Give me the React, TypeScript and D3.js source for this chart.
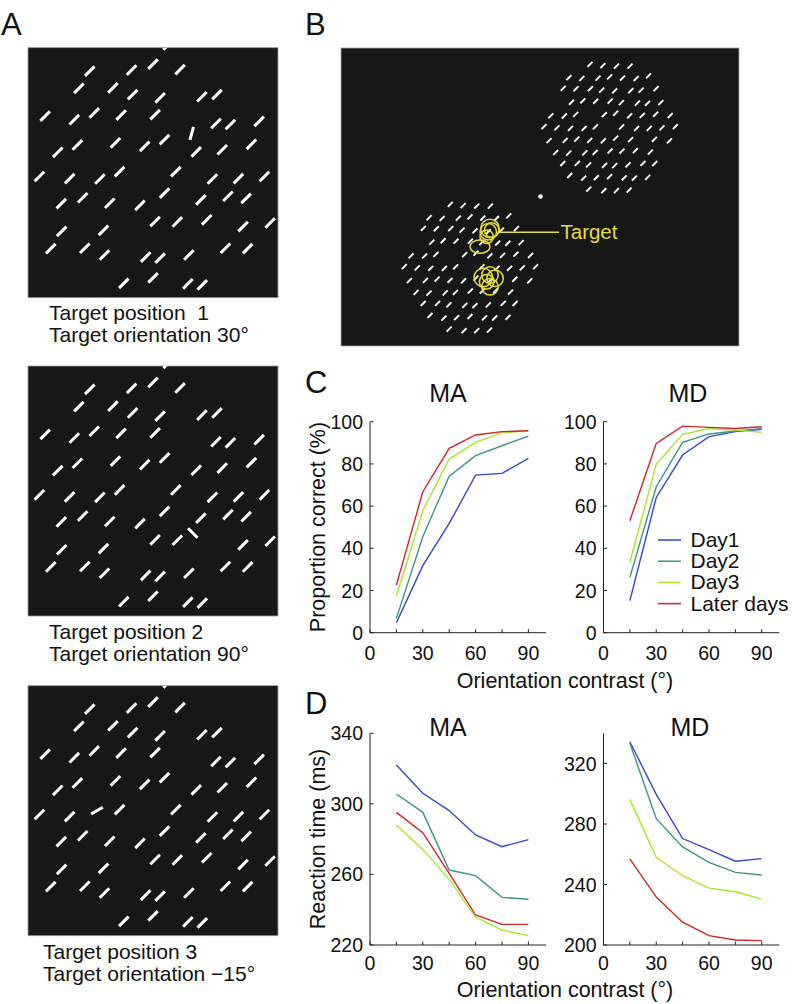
import React from 'react';
import * as d3 from 'd3';

// ---------- DATA ----------
const CONTRASTS = [15, 30, 45, 60, 75, 90];
const SERIES = ['Day1', 'Day2', 'Day3', 'Later days'];
const COLORS = ['#3446d6', '#3e9585', '#a5ea2a', '#d3262b'];

// Proportion correct (%)
const PC_MA_DAY1 = [4.7, 31.8, 51.8, 74.7, 75.5, 82.6];
const PC_MA_DAY2 = [6.8, 45.5, 74.2, 83.9, 88.6, 93.2];
const PC_MA_DAY3 = [17.4, 57.8, 82.3, 90.2, 94.8, 95.7];
const PC_MA_LATER = [22.6, 66.8, 87.4, 93.7, 95.3, 95.7];
const PC_MD_DAY1 = [15.2, 64.1, 84.2, 92.9, 95.3, 96.4];
const PC_MD_DAY2 = [26.2, 69.2, 90.2, 94.2, 95.6, 96.7];
const PC_MD_DAY3 = [33.5, 79.8, 94.0, 96.8, 96.0, 95.0];
const PC_MD_LATER = [53.1, 89.7, 97.9, 97.3, 96.8, 97.6];

// Reaction time (ms)
const RT_MA_DAY1 = [322.0, 306.0, 296.2, 282.4, 275.7, 279.7];
const RT_MA_DAY2 = [305.6, 295.2, 262.5, 259.3, 247.0, 245.9];
const RT_MA_DAY3 = [288.0, 274.2, 257.2, 235.7, 228.5, 225.3];
const RT_MA_LATER = [295.2, 283.7, 260.6, 237.0, 231.7, 231.7];
const RT_MD_DAY1 = [334.4, 299.6, 270.4, 263.1, 255.4, 257.1];
const RT_MD_DAY2 = [333.5, 283.5, 264.9, 254.7, 248.0, 246.3];
const RT_MD_DAY3 = [296.3, 258.0, 245.8, 237.6, 235.2, 230.3];
const RT_MD_LATER = [256.9, 231.7, 215.1, 206.2, 203.3, 202.9];

const X_TICKS = [0, 15, 30, 45, 60, 75, 90];
const X_TICK_LABELS = [0, 30, 60, 90];
const PC_TICKS = [0, 20, 40, 60, 80, 100];
const RT_MA_TICKS = [220, 260, 300, 340];
const RT_MD_TICKS = [200, 240, 280, 320];

// Stimulus panels (A): target location in stimulus units (radius 1), orientation in degrees
const A_TARGET_X = [0.31, 0.318, -0.448];
const A_TARGET_Y = [-0.315, 0.336, 0.0];
const A_TARGET_ANGLE = [75, 135, 30];
const A_LINE1 = ['Target position\u00a0\u00a01', 'Target position 2', 'Target position 3'];
const A_LINE2 = ['Target orientation 30°', 'Target orientation 90°', 'Target orientation \u221215°'];
const BACKGROUND_ANGLE = 45;

// small jitter table (lattice units)
const JITTER: [number, number][] = [
  [0.22, -0.15], [-0.3, 0.1], [0.05, 0.28], [-0.12, -0.3], [0.32, 0.2],
  [-0.25, -0.05], [0.1, -0.22], [-0.05, 0.18], [0.27, 0.02], [-0.33, 0.25],
  [0.15, 0.3], [-0.18, -0.2], [0.0, -0.08],
];

// Panel B (screen units 40 x 30)
const B_PATCH_X = [27.0, 12.96];
const B_PATCH_Y = [7.96, 22.05];
const B_PATCH_R = 6.9;
const B_FIX = [20.05, 14.95];
const B_TARGET = [14.8, 18.5];
const EYE_X = [14.97, 14.8, 15.15, 14.64, 13.97, 14.3, 14.97, 15.48, 14.97, 14.64];
const EYE_Y = [18.16, 18.5, 18.33, 19.0, 20.0, 23.1, 22.86, 23.19, 24.04, 23.53];
const EYE_RX = [0.93, 0.83, 0.73, 0.67, 1.0, 0.93, 0.83, 0.83, 0.83, 0.73];
const EYE_RY = [0.93, 0.83, 0.73, 0.67, 0.67, 0.93, 0.83, 0.83, 0.83, 0.73];

// ---------- STYLE ----------
const FONT = "'Liberation Sans', Arial, Helvetica, sans-serif";
const STIM_BG = '#161818';
const YELLOW = '#e6dc3a';

type Seg = { x1: number; y1: number; x2: number; y2: number };

function lattice(radius: number, spacing: number, skipMod: number, jitterScale: number) {
  const pts: { u: number; v: number }[] = [];
  const n = Math.ceil(radius / spacing) + 2;
  d3.range(-n, n + 1).forEach((j) => {
    d3.range(-n, n + 1).forEach((i) => {
      const jit = JITTER[Math.abs(i * 5 + j * 3) % JITTER.length];
      const u = (i + (Math.abs(j) % 2) * 0.5 + jit[0] * jitterScale) * spacing;
      const v = (j * 0.95 + jit[1] * jitterScale) * spacing;
      if (skipMod > 0 && Math.abs(i * 3 + j * 7) % skipMod === 0) return;
      if (Math.hypot(u, v) <= radius) pts.push({ u, v });
    });
  });
  return pts;
}

function segAt(cx: number, cy: number, len: number, angleDeg: number): Seg {
  const a = (angleDeg * Math.PI) / 180;
  const dx = (Math.cos(a) * len) / 2;
  const dy = (Math.sin(a) * len) / 2;
  return { x1: cx - dx, y1: cy + dy, x2: cx + dx, y2: cy - dy };
}

function StimA({ idx, top }: { idx: number; top: number }) {
  const left = 28;
  const size = 250;
  const sx = d3.scaleLinear().domain([-1, 1]).range([left, left + size]);
  const sy = d3.scaleLinear().domain([-1, 1]).range([top, top + size]);
  const tx = A_TARGET_X[idx];
  const ty = A_TARGET_Y[idx];
  const pts = lattice(1.03, 0.225, 11, 0.75).filter((p) => Math.hypot(p.u - tx, p.v - ty) > 0.13);
  const segs = pts.map((p) => segAt(sx(p.u), sy(p.v), 13.5, BACKGROUND_ANGLE));
  const target = segAt(sx(tx), sy(ty), 13.5, A_TARGET_ANGLE[idx]);
  const clipId = `clipA${idx}`;
  return (
    <g>
      <defs>
        <clipPath id={clipId}>
          <rect x={left} y={top} width={size} height={size} />
        </clipPath>
      </defs>
      <rect x={left} y={top} width={size} height={size} fill={STIM_BG} stroke="#9a9a9a" strokeWidth={0.8} />
      <g clipPath={`url(#${clipId})`} stroke="#ffffff" strokeWidth={3}>
        {segs.map((s, k) => (
          <line key={k} x1={s.x1} y1={s.y1} x2={s.x2} y2={s.y2} />
        ))}
        <line x1={target.x1} y1={target.y1} x2={target.x2} y2={target.y2} />
      </g>
    </g>
  );
}

function StimB() {
  const left = 341, top = 48, w = 398, h = 298;
  const sx = d3.scaleLinear().domain([0, 40]).range([left, left + w]);
  const sy = d3.scaleLinear().domain([0, 30]).range([top, top + h]);
  const k = sx(1) - sx(0);
  const pts = lattice(B_PATCH_R, 1.32, 13, 0.35);
  const segs: Seg[] = [];
  B_PATCH_X.forEach((px, pi) => {
    pts.forEach((p) => {
      const cx = px + p.u;
      const cy = B_PATCH_Y[pi] + p.v;
      if (pi === 1 && Math.hypot(cx - B_TARGET[0], cy - B_TARGET[1]) < 0.7) return;
      segs.push(segAt(sx(cx), sy(cy), 7, BACKGROUND_ANGLE));
    });
  });
  const tgt = segAt(sx(B_TARGET[0]), sy(B_TARGET[1]), 7, BACKGROUND_ANGLE);
  const lineY = sy(18.56);
  return (
    <g>
      <rect x={left} y={top} width={w} height={h} fill={STIM_BG} stroke="#a0a0a0" strokeWidth={0.8} />
      <g stroke="#ffffff" strokeWidth={1.9}>
        {segs.map((s, i) => (
          <line key={i} x1={s.x1} y1={s.y1} x2={s.x2} y2={s.y2} />
        ))}
        <line x1={tgt.x1} y1={tgt.y1} x2={tgt.x2} y2={tgt.y2} />
      </g>
      <circle cx={sx(B_FIX[0])} cy={sy(B_FIX[1])} r={2.3} fill="#ffffff" />
      <g fill="none" stroke={YELLOW} strokeWidth={1.5}>
        {EYE_X.map((ex, i) => (
          <ellipse key={i} cx={sx(ex)} cy={sy(EYE_Y[i])} rx={EYE_RX[i] * k} ry={EYE_RY[i] * k} />
        ))}
        <line x1={sx(15.98)} y1={lineY} x2={sx(21.9)} y2={lineY} />
      </g>
      <text x={sx(22.06)} y={lineY + 7} fill={YELLOW} fontSize={20.5} fontFamily={FONT}>
        Target
      </text>
    </g>
  );
}

type ChartProps = {
  x0: number; x1: number; y0: number; y1: number;
  yDomain: [number, number];
  yTicks: number[];
  series: number[][];
  title: string;
  titleX: number;
  titleY: number;
  tickLabelY: number;
};

function LineChart(p: ChartProps) {
  const x = d3.scaleLinear().domain([0, 100]).range([p.x0, p.x1]);
  const y = d3.scaleLinear().domain(p.yDomain).range([p.y0, p.y1]);
  const line = d3
    .line<number>()
    .x((_, i) => x(CONTRASTS[i]))
    .y((d) => y(d));
  return (
    <g fontFamily={FONT} fill="#111">
      {p.series.map((s, i) => (
        <path key={i} d={line(s) || ''} fill="none" stroke={COLORS[i]} strokeWidth={1.4} />
      ))}
      <g stroke="#222" strokeWidth={1} fill="none">
        <line x1={p.x0} y1={p.y0} x2={p.x1} y2={p.y0} />
        <line x1={p.x0} y1={p.y0} x2={p.x0} y2={y(p.yDomain[1])} />
        {X_TICKS.map((t) => (
          <line key={'xt' + t} x1={x(t)} x2={x(t)} y1={p.y0} y2={p.y0 - 3.5} />
        ))}
        {p.yTicks.map((t) => (
          <line key={'yt' + t} x1={p.x0} x2={p.x0 + 3.5} y1={y(t)} y2={y(t)} />
        ))}
      </g>
      {X_TICK_LABELS.map((t) => (
        <text key={'xl' + t} x={x(t)} y={p.tickLabelY} textAnchor="middle" fontSize={19.5}>
          {t}
        </text>
      ))}
      {p.yTicks.map((t) => (
        <text key={'yl' + t} x={p.x0 - 7} y={y(t) + 7} textAnchor="end" fontSize={19.5}>
          {t}
        </text>
      ))}
      <text x={p.titleX} y={p.titleY} textAnchor="middle" fontSize={25}>
        {p.title}
      </text>
    </g>
  );
}

export default function App() {
  const cY0 = 632.7, cY1 = 421.7;
  const dY0 = 945, dY1 = 733.3;
  const maX0 = 370, maX1 = 546;
  const mdX0 = 603.5, mdX1 = 779.3;
  return (
    <svg width={793} height={1004} style={{ position: 'absolute', left: 0, top: 0, background: '#fff' }}>
      <rect x={0} y={0} width={793} height={1004} fill="#ffffff" />
      {/* Panel letters */}
      <g fontFamily={FONT} fontSize={31} fill="#111">
        <text x={1} y={35}>A</text>
        <text x={305} y={35}>B</text>
        <text x={305} y={393}>C</text>
        <text x={305} y={714}>D</text>
      </g>

      {/* Panel A */}
      <StimA idx={0} top={47.7} />
      <StimA idx={1} top={366} />
      <StimA idx={2} top={685.7} />
      <g fontFamily={FONT} fontSize={21} fill="#111">
        <text x={49} y={320}>{A_LINE1[0]}</text>
        <text x={49} y={342}>{A_LINE2[0]}</text>
        <text x={49} y={638.5}>{A_LINE1[1]}</text>
        <text x={49} y={660.5}>{A_LINE2[1]}</text>
        <text x={43} y={959}>{A_LINE1[2]}</text>
        <text x={43} y={981}>{A_LINE2[2]}</text>
      </g>

      {/* Panel B */}
      <StimB />

      {/* Panel C */}
      <LineChart x0={maX0} x1={maX1} y0={cY0} y1={cY1} yDomain={[0, 100]} yTicks={PC_TICKS}
        series={[PC_MA_DAY1, PC_MA_DAY2, PC_MA_DAY3, PC_MA_LATER]} title="MA" titleX={448} titleY={402} tickLabelY={659.5} />
      <LineChart x0={mdX0} x1={mdX1} y0={cY0} y1={cY1} yDomain={[0, 100]} yTicks={PC_TICKS}
        series={[PC_MD_DAY1, PC_MD_DAY2, PC_MD_DAY3, PC_MD_LATER]} title="MD" titleX={688} titleY={402} tickLabelY={659.5} />
      {/* Legend */}
      <g fontFamily={FONT} fontSize={21} fill="#111">
        {SERIES.map((s, i) => {
          const ly = 540 + i * 21.2;
          return (
            <g key={s}>
              <line x1={658} x2={681} y1={ly} y2={ly} stroke={COLORS[i]} strokeWidth={1.5} />
              <text x={690.5} y={ly + 7}>{s}</text>
            </g>
          );
        })}
      </g>

      {/* Panel D */}
      <LineChart x0={maX0} x1={maX1} y0={dY0} y1={dY1} yDomain={[220, 340]} yTicks={RT_MA_TICKS}
        series={[RT_MA_DAY1, RT_MA_DAY2, RT_MA_DAY3, RT_MA_LATER]} title="MA" titleX={448} titleY={735.5} tickLabelY={970} />
      <LineChart x0={mdX0} x1={mdX1} y0={dY0} y1={dY1} yDomain={[200, 340]} yTicks={RT_MD_TICKS}
        series={[RT_MD_DAY1, RT_MD_DAY2, RT_MD_DAY3, RT_MD_LATER]} title="MD" titleX={690} titleY={735.5} tickLabelY={970} />

      {/* Axis titles */}
      <g fontFamily={FONT} fontSize={21.5} fill="#111">
        <text x={565} y={688} textAnchor="middle">Orientation contrast (°)</text>
        <text x={565} y={997} textAnchor="middle">Orientation contrast (°)</text>
        <text transform="translate(325,527) rotate(-90)" textAnchor="middle">Proportion correct (%)</text>
        <text transform="translate(325,839) rotate(-90)" textAnchor="middle">Reaction time (ms)</text>
      </g>
    </svg>
  );
}
